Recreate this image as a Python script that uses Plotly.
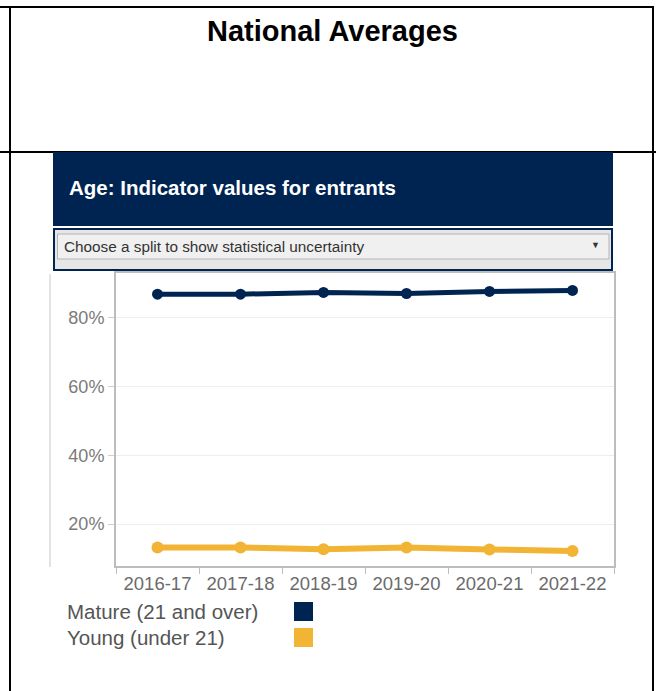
import plotly.graph_objects as go

W, H = 656, 691

years = ["2016-17", "2017-18", "2018-19", "2019-20", "2020-21", "2021-22"]
mature = [86.9, 86.9, 87.4, 87.1, 87.7, 88.0]
young = [13.2, 13.2, 12.7, 13.2, 12.6, 12.2]
y_ticks = [20, 40, 60, 80]
y_tick_labels = ["20%", "40%", "60%", "80%"]
series_names = ["Mature (21 and over)", "Young (under 21)"]

NAVY = "#002452"
GOLD = "#F1B434"


def px(x):
    return x / W


def py(y):
    return 1 - y / H


fig = go.Figure()
fig.add_trace(go.Scatter(x=years, y=mature, mode="lines+markers", name=series_names[0],
                         line=dict(color=NAVY, width=5), marker=dict(color=NAVY, size=11)))
fig.add_trace(go.Scatter(x=years, y=young, mode="lines+markers", name=series_names[1],
                         line=dict(color=GOLD, width=6), marker=dict(color=GOLD, size=12)))

shapes = []
BL = dict(color="black", width=2)
# document table borders
shapes.append(dict(type="line", xref="paper", yref="paper", x0=px(0), x1=px(654), y0=py(7), y1=py(7), line=BL))
shapes.append(dict(type="line", xref="paper", yref="paper", x0=px(10), x1=px(10), y0=py(7), y1=py(691), line=BL))
shapes.append(dict(type="line", xref="paper", yref="paper", x0=px(653), x1=px(653), y0=py(6), y1=py(691), line=BL))
shapes.append(dict(type="line", xref="paper", yref="paper", x0=px(0), x1=px(656), y0=py(152), y1=py(152), line=BL))
# header box
shapes.append(dict(type="rect", xref="paper", yref="paper", x0=px(53), x1=px(613), y0=py(226), y1=py(152),
                   fillcolor=NAVY, line=dict(width=0), layer="above"))
# dropdown outer
shapes.append(dict(type="rect", xref="paper", yref="paper", x0=px(54), x1=px(612), y0=py(270), y1=py(229),
                   fillcolor="#e6e6e6", line=dict(color=NAVY, width=2)))
# dropdown inner
shapes.append(dict(type="rect", xref="paper", yref="paper", x0=px(57.5), x1=px(609), y0=py(259), y1=py(234),
                   fillcolor="#f0f0f0", line=dict(color="#b4b4b4", width=1)))
# left thin line of chart frame
shapes.append(dict(type="line", xref="paper", yref="paper", x0=px(50), x1=px(50), y0=py(274), y1=py(567),
                   line=dict(color="#c8c8c8", width=1)))
# legend swatches
shapes.append(dict(type="rect", xref="paper", yref="paper", x0=px(294), x1=px(313), y0=py(621), y1=py(602),
                   fillcolor=NAVY, line=dict(width=0)))
shapes.append(dict(type="rect", xref="paper", yref="paper", x0=px(294), x1=px(313), y0=py(647), y1=py(628),
                   fillcolor=GOLD, line=dict(width=0)))

annotations = [
    dict(text="<b>National Averages</b>", x=px(332), y=py(31), xref="paper", yref="paper",
         showarrow=False, xanchor="center", yanchor="middle",
         font=dict(family="Arial", size=29, color="black")),
    dict(text="<b>Age: Indicator values for entrants</b>", x=px(67), y=py(187), xref="paper", yref="paper",
         showarrow=False, xanchor="left", yanchor="middle",
         font=dict(family="Arial", size=20.5, color="white")),
    dict(text="Choose a split to show statistical uncertainty", x=px(62), y=py(246), xref="paper", yref="paper",
         showarrow=False, xanchor="left", yanchor="middle",
         font=dict(family="Arial", size=15.3, color="#333333")),
    dict(text="▼", x=px(595), y=py(245), xref="paper", yref="paper",
         showarrow=False, xanchor="center", yanchor="middle",
         font=dict(family="Arial", size=9, color="#333333")),
    dict(text=series_names[0], x=px(65), y=py(611), xref="paper", yref="paper",
         showarrow=False, xanchor="left", yanchor="middle",
         font=dict(family="Arial", size=20.5, color="#555555")),
    dict(text=series_names[1], x=px(65), y=py(637), xref="paper", yref="paper",
         showarrow=False, xanchor="left", yanchor="middle",
         font=dict(family="Arial", size=20.5, color="#555555")),
]

y_lo = 20 - (566 - 524) / 3.445
y_hi = 80 + (318 - 273) / 3.445

fig.update_layout(
    width=W, height=H,
    margin=dict(l=0, r=0, t=0, b=0),
    paper_bgcolor="white", plot_bgcolor="white",
    showlegend=False,
    shapes=shapes, annotations=annotations,
    xaxis=dict(domain=[px(116), px(614)], type="category", range=[-0.5, 5.5],
               showline=True, linecolor="#bdbdbd", linewidth=2, mirror=True,
               ticks="outside", tickson="boundaries", ticklen=6, tickcolor="#bdbdbd",
               showgrid=False, tickfont=dict(family="Arial", size=18.5, color="#6b6b6b")),
    yaxis=dict(domain=[py(566), py(273)], range=[y_lo, y_hi],
               tickvals=y_ticks, ticktext=y_tick_labels,
               showline=True, linecolor="#bdbdbd", linewidth=2, mirror=True,
               ticks="outside", ticklen=6, tickcolor="#cfcfcf",
               showgrid=True, gridcolor="#eeeeee", gridwidth=1, zeroline=False,
               tickfont=dict(family="Arial", size=18, color="#7a7a7a")),
)

fig.write_html("out.html", config={"displayModeBar": False},
               post_script="document.body.style.margin='0px';")
